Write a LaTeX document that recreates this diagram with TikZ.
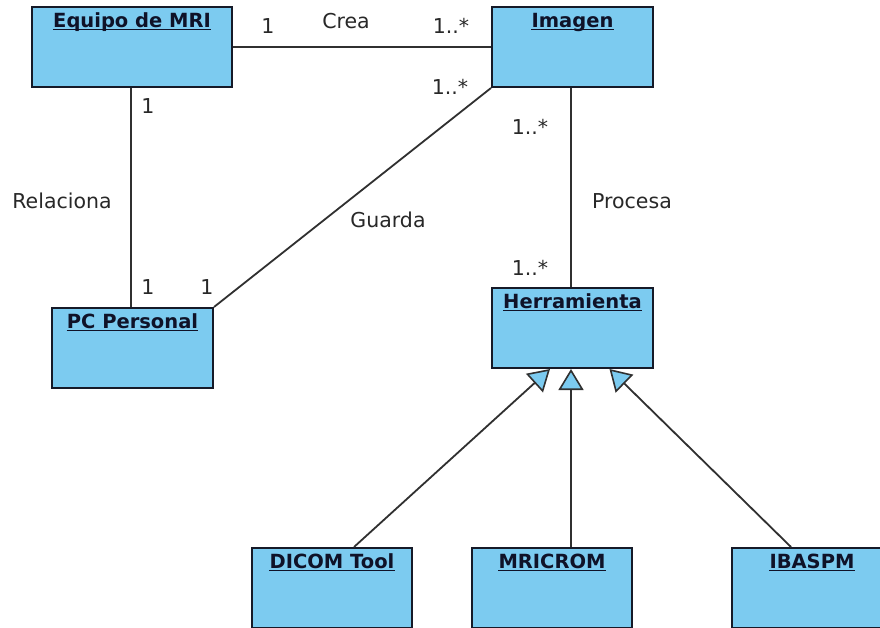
\documentclass[tikz,border=0pt]{standalone}
\usepackage{fontspec}
\setmainfont{DejaVu Sans}
\usetikzlibrary{arrows.meta,calc}

\definecolor{classfill}{RGB}{124,203,240}
\definecolor{classline}{RGB}{22,26,40}
\definecolor{linkgray}{RGB}{48,48,48}
\definecolor{labelgray}{RGB}{40,40,40}
\definecolor{titleink}{RGB}{15,18,40}

\tikzset{
  classbox/.style={draw=classline, line width=2pt, fill=classfill,
    minimum height=80pt, inner sep=0pt, anchor=north west},
  classtitle/.style={font=\fontsize{19.5}{19.5}\selectfont\bfseries,
    text=titleink, inner sep=0pt, anchor=base},
  titlerule/.style={draw=titleink, line width=1.3pt},
  assoc/.style={draw=linkgray, line width=1.8pt},
  generalize/.style={assoc,
    -{Triangle[length=21pt,width=25pt,fill=classfill,line width=1.6pt]}},
  mult/.style={font=\fontsize{20.5}{20.5}\selectfont, text=labelgray,
    inner sep=0pt, anchor=base},
}

% \umlclass{name}{x}{y}{width}{title}
\newcommand\umlclass[5]{%
  \node[classbox, minimum width=#4pt] (#1) at (#2,#3) {};
  \node[classtitle] (#1-title) at ($(#1.north)+(0,21)$) {#5};
  \draw[titlerule] ([yshift=-2.5pt]#1-title.base west)
                -- ([yshift=-2.5pt]#1-title.base east);
}

\begin{document}
\begin{tikzpicture}[x=1pt,y=-1pt]
  \fill[white] (0,0) rectangle (880,627);
  \useasboundingbox (0,0) rectangle (880,627);
  \clip (0,0) rectangle (880,627);

  % classes
  \umlclass{equipo}{31}{6}{200}{Equipo de MRI}
  \umlclass{imagen}{491}{6}{161}{Imagen}
  \umlclass{pc}{51}{307}{161}{PC Personal}
  \umlclass{herramienta}{491}{287}{161}{Herramienta}
  \umlclass{dicom}{251}{547}{160}{DICOM Tool}
  \umlclass{mricrom}{471}{547}{160}{MRICROM}
  \umlclass{ibaspm}{731}{547}{160}{IBASPM}

  % associations
  \draw[assoc] (equipo.east) -- (imagen.west);
  \draw[assoc] ([xshift=-1pt]equipo.south) -- ([xshift=-1pt]equipo.south |- pc.north);
  \draw[assoc] (imagen.south west) -- (pc.north east);
  \draw[assoc] ([xshift=-1.5pt]imagen.south) -- ([xshift=-1.5pt]imagen.south |- herramienta.north);

  % generalizations
  \draw[generalize] ([xshift=22pt]dicom.north) -- ([xshift=-22.5pt]herramienta.south);
  \draw[generalize] ([xshift=-1.5pt]herramienta.south |- mricrom.north) -- ([xshift=-1.5pt]herramienta.south);
  \draw[generalize] ([xshift=-21pt]ibaspm.north) -- ([xshift=37pt]herramienta.south);

  % association names and multiplicities
  \node[mult] (crea-a)    at (268,33)  {1};
  \node[mult] (crea)      at (346,28)  {Crea};
  \node[mult] (crea-b)    at (451,33)  {1..*};
  \node[mult] (rel-a)     at (148,113) {1};
  \node[mult] (rel)       at (62,208)  {Relaciona};
  \node[mult] (rel-b)     at (148,294) {1};
  \node[mult] (guarda-b)  at (207,294) {1};
  \node[mult] (guarda)    at (388,227) {Guarda};
  \node[mult] (guarda-a)  at (450,94)  {1..*};
  \node[mult] (procesa-a) at (530,134) {1..*};
  \node[mult] (procesa)   at (632,208) {Procesa};
  \node[mult] (procesa-b) at (530,275) {1..*};
\end{tikzpicture}
\end{document}
